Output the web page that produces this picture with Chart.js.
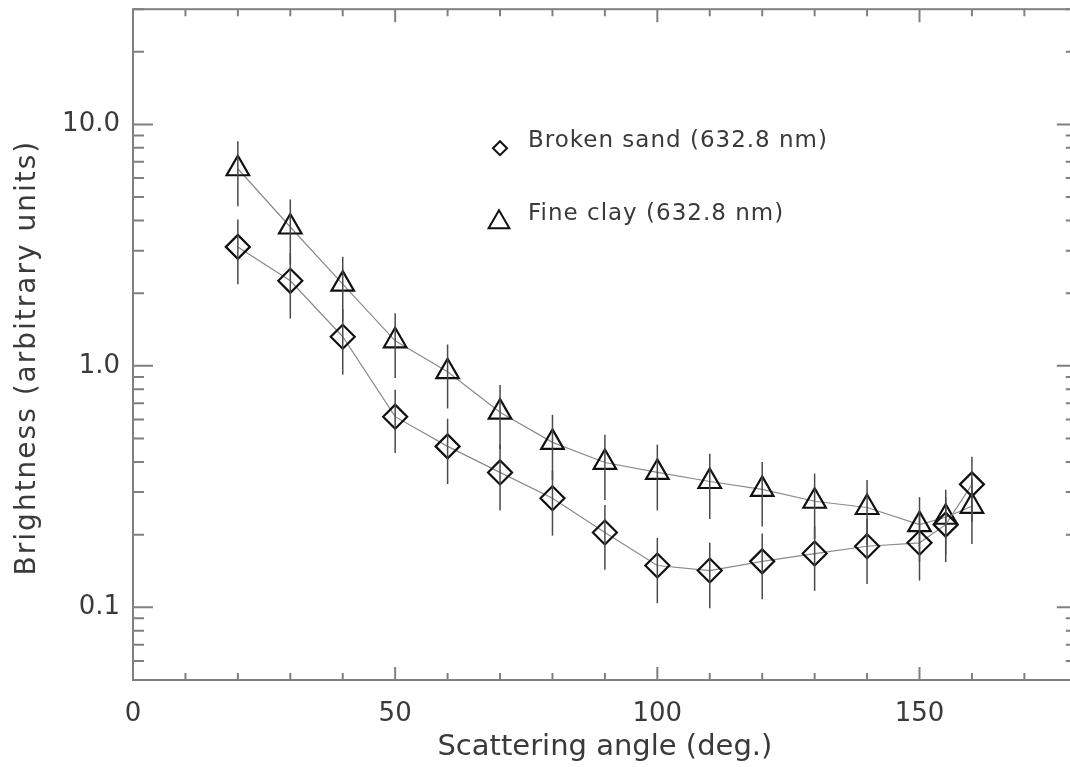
<!DOCTYPE html>
<html>
<head>
<meta charset="utf-8">
<script src="https://cdn.jsdelivr.net/npm/chart.js@4.4.1/dist/chart.umd.min.js"></script>
<style>
  html, body { margin: 0; padding: 0; background: #fff; overflow: hidden; }
  /* point overflow forces ~15px top/right padding, so the canvas is shifted up and made wider */
  #wrap { position: relative; top: -6px; width: 1092px; height: 773px; }
</style>
</head>
<body>
<div id="wrap"><canvas id="myChart"></canvas></div>
<script>
// scattering angles (deg.)
var angles = [20, 30, 40, 50, 60, 70, 80, 90, 100, 110, 120, 130, 140, 150, 155, 160];

// Broken sand (632.8 nm)
var sandValues = [3.11, 2.25, 1.32, 0.616, 0.464, 0.362, 0.283, 0.204, 0.149, 0.142, 0.155, 0.167, 0.179, 0.185, 0.220, 0.323];
var sandErrors = [0.93, 0.68, 0.40, 0.18, 0.14, 0.11, 0.085, 0.061, 0.045, 0.043, 0.047, 0.050, 0.054, 0.056, 0.066, 0.097];

// Fine clay (632.8 nm)
var clayValues = [6.55, 3.76, 2.18, 1.27, 0.946, 0.643, 0.482, 0.398, 0.362, 0.332, 0.308, 0.275, 0.259, 0.220, 0.236, 0.262];
var clayErrors = [1.97, 1.13, 0.65, 0.38, 0.28, 0.19, 0.145, 0.12, 0.11, 0.10, 0.092, 0.083, 0.078, 0.066, 0.071, 0.079];

var xTickValues = [0, 50, 100, 150];
var yTickValues = [0.1, 1, 10];
var yTickLabels = ['0.1', '1.0', '10.0'];
var seriesLabels = ['Broken sand (632.8 nm)', 'Fine clay (632.8 nm)'];
var yTitle = 'Brightness (arbitrary units)';

function points(vals) {
  return angles.map(function (a, i) { return { x: a, y: vals[i] }; });
}

var FONT = '"DejaVu Sans", sans-serif';
var TEXT = '#3a3a3a';
Chart.defaults.font.family = FONT;
Chart.defaults.color = TEXT;

function noPadding() { return { left: 0, top: 0, right: 0, bottom: 0 }; }

// vertical error bars, drawn through the scales
var errorBars = {
  id: 'errorBars',
  afterDatasetsDraw: function (chart) {
    var ctx = chart.ctx, xs = chart.scales.x, ys = chart.scales.y;
    ctx.save();
    ctx.strokeStyle = '#4a4a4a';
    ctx.lineWidth = 1.5;
    chart.data.datasets.forEach(function (ds) {
      ds.data.forEach(function (p, i) {
        var err = ds.errors[i];
        var px = xs.getPixelForValue(p.x);
        ctx.beginPath();
        ctx.moveTo(px, ys.getPixelForValue(p.y + err));
        ctx.lineTo(px, ys.getPixelForValue(p.y - err));
        ctx.stroke();
      });
    });
    ctx.restore();
  }
};

// box with inward ticks on all four sides, plus the y title
var frame = {
  id: 'frame',
  afterDraw: function (chart) {
    var ctx = chart.ctx, a = chart.chartArea;
    var xs = chart.scales.x, ys = chart.scales.y;
    ctx.save();
    ctx.strokeStyle = '#808080';
    ctx.lineWidth = 2;
    ctx.strokeRect(a.left, a.top, a.right - a.left, a.bottom - a.top);
    ctx.beginPath();
    for (var v = 0; v <= xs.max + 0.01; v += 10) {
      var px = xs.getPixelForValue(v);
      var len = v % 50 === 0 ? 13 : 7;
      ctx.moveTo(px, a.bottom); ctx.lineTo(px, a.bottom - len);
      ctx.moveTo(px, a.top); ctx.lineTo(px, a.top + len);
    }
    for (var e = -2; e <= 1; e++) {
      for (var m = 1; m <= 9; m++) {
        var val = m * Math.pow(10, e);
        if (val < ys.min * 0.999 || val > ys.max * 1.001) continue;
        var py = ys.getPixelForValue(val);
        var l = m === 1 ? 20 : 11;
        ctx.moveTo(a.left, py); ctx.lineTo(a.left + l, py);
        ctx.moveTo(a.right, py); ctx.lineTo(a.right - l, py);
      }
    }
    ctx.stroke();

    // rotated y title, wider letter spacing like the original
    ctx.translate(28, (a.top + a.bottom) / 2 + 13);
    ctx.rotate(-Math.PI / 2);
    ctx.font = '28px ' + FONT;
    ctx.letterSpacing = '2px';
    ctx.fillStyle = TEXT;
    ctx.textAlign = 'center';
    ctx.textBaseline = 'middle';
    ctx.fillText(yTitle, 0, 0);
    ctx.restore();
  }
};

// legend written inside the plot
var innerLegend = {
  id: 'innerLegend',
  afterDraw: function (chart) {
    var ctx = chart.ctx, a = chart.chartArea;
    var rows = [
      { style: 'rectRot', r: 7, x: a.left + 367, y: a.top + 139, ty: a.top + 132 },
      { style: 'triangle', r: 12, x: a.left + 366, y: a.top + 213, ty: a.top + 205 }
    ];
    ctx.save();
    rows.forEach(function (row, i) {
      ctx.strokeStyle = '#111';
      ctx.lineWidth = 2;
      ctx.fillStyle = 'rgba(0,0,0,0)';
      Chart.helpers.drawPoint(ctx, { pointStyle: row.style, radius: row.r, rotation: 0, borderWidth: 2 }, row.x, row.y);
      ctx.fillStyle = TEXT;
      ctx.font = '23px ' + FONT;
      ctx.letterSpacing = '1px';
      ctx.textBaseline = 'middle';
      ctx.fillText(seriesLabels[i], a.left + 395, row.ty);
    });
    ctx.restore();
  }
};

var ctx = document.getElementById('myChart').getContext('2d');
var myChart = new Chart(ctx, {
  type: 'line',
  data: {
    datasets: [{
      label: seriesLabels[0],
      data: points(sandValues),
      errors: sandErrors,
      borderColor: '#8a8a8a',
      borderWidth: 1.2,
      pointStyle: 'rectRot',
      pointRadius: 12,
      pointBorderWidth: 2.2,
      pointBorderColor: '#111',
      pointBackgroundColor: 'rgba(0,0,0,0)',
      tension: 0
    }, {
      label: seriesLabels[1],
      data: points(clayValues),
      errors: clayErrors,
      borderColor: '#8a8a8a',
      borderWidth: 1.2,
      pointStyle: 'triangle',
      pointRadius: 13,
      pointBorderWidth: 2.2,
      pointBorderColor: '#111',
      pointBackgroundColor: 'rgba(0,0,0,0)',
      tension: 0
    }]
  },
  options: {
    responsive: true,
    maintainAspectRatio: false,
    animation: false,
    layout: { padding: { top: 0, right: 0, left: 0, bottom: 0 } },
    plugins: { legend: { display: false }, tooltip: { enabled: false } },
    scales: {
      x: {
        type: 'linear',
        min: 0,
        max: 180,
        grid: { display: false, drawTicks: false },
        border: { display: false },
        afterBuildTicks: function (s) { s.ticks = xTickValues.map(function (v) { return { value: v }; }); },
        afterFit: function (s) { s.height = 87; s.getPadding = noPadding; },
        ticks: { padding: 19, font: { size: 26 }, maxRotation: 0, color: TEXT },
        title: { display: true, text: 'Scattering angle (deg.)', font: { size: 29 }, color: TEXT, padding: { top: 0, bottom: 2 } }
      },
      y: {
        type: 'logarithmic',
        min: 0.05,
        max: 30,
        grid: { display: false, drawTicks: false },
        border: { display: false },
        afterBuildTicks: function (s) { s.ticks = yTickValues.map(function (v) { return { value: v }; }); },
        afterFit: function (s) { s.width = 133; s.getPadding = noPadding; },
        ticks: {
          padding: 13,
          font: { size: 26 },
          color: TEXT,
          callback: function (v) { return yTickLabels[yTickValues.indexOf(v)]; }
        },
        title: { display: false }
      }
    }
  },
  plugins: [errorBars, frame, innerLegend]
});
</script>
</body>
</html>
